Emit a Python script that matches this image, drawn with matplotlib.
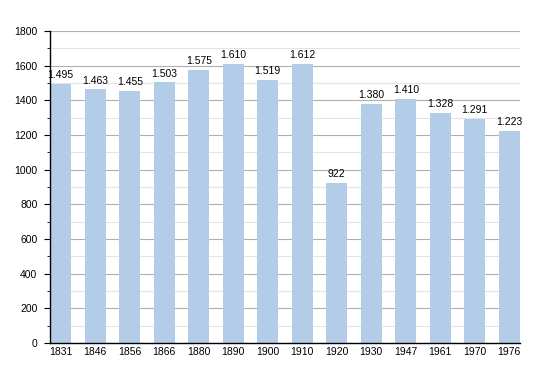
import matplotlib
matplotlib.use("Agg")
import matplotlib.pyplot as plt
from matplotlib.ticker import MultipleLocator

years = ["1831", "1846", "1856", "1866", "1880", "1890", "1900",
         "1910", "1920", "1930", "1947", "1961", "1970", "1976"]
population = [1495, 1463, 1455, 1503, 1575, 1610, 1519,
              1612, 922, 1380, 1410, 1328, 1291, 1223]
labels = ["1.495", "1.463", "1.455", "1.503", "1.575", "1.610", "1.519",
          "1.612", "922", "1.380", "1.410", "1.328", "1.291", "1.223"]

plt.rcParams['font.family'] = ['Liberation Sans', 'DejaVu Sans']

fig = plt.figure(figsize=(5.5, 3.73), dpi=100)
ax = fig.add_axes([50/550, 1 - 343/373, 470/550, 312/373])

width = 0.62
x = range(len(years))
ax.bar(x, population, width=width, color="#b3cde8", zorder=2)
for i, (v, lab) in enumerate(zip(population, labels)):
    ax.text(i, v + 22, lab, ha="center", va="bottom", fontsize=7.5, zorder=3)

ax.set_xlim(-width/2, len(years) - 1 + width/2)
ax.set_ylim(0, 1800)
ax.yaxis.set_major_locator(MultipleLocator(200))
ax.yaxis.set_minor_locator(MultipleLocator(100))
ax.grid(axis="y", which="major", color="#b0b0b0", linewidth=0.8, zorder=0)
ax.grid(axis="y", which="minor", color="#e4e4e4", linewidth=0.8, zorder=0)
ax.set_xticks(list(x))
ax.set_xticklabels(years)
ax.tick_params(axis="x", length=0, labelsize=7.5, pad=3)
ax.tick_params(axis="y", which="major", length=4, labelsize=7.5, pad=5)
ax.tick_params(axis="y", which="minor", length=2)
for s in ["top", "right"]:
    ax.spines[s].set_visible(False)
ax.spines["left"].set_linewidth(1.0)
ax.spines["bottom"].set_linewidth(1.0)

fig.savefig("out.png", dpi=100)
